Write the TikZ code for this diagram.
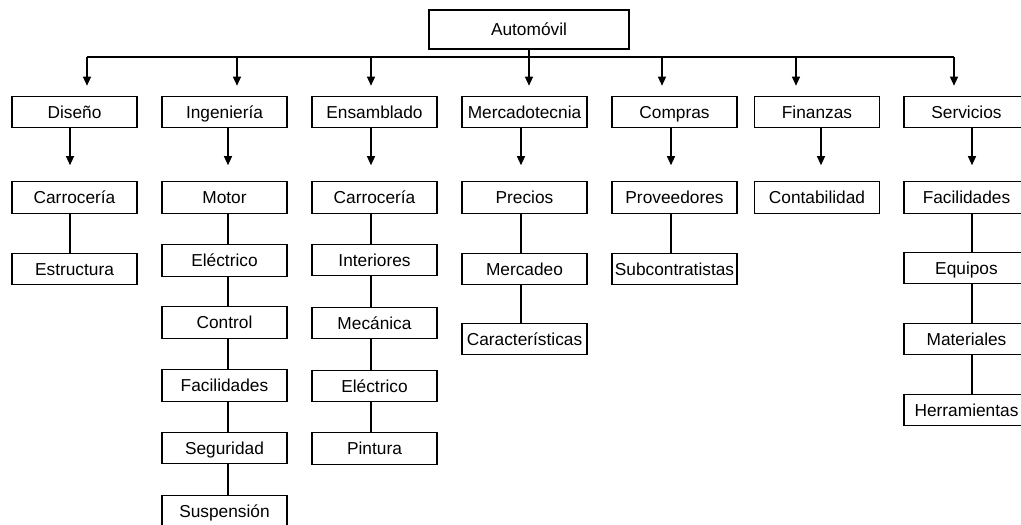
\documentclass[tikz,border=0pt]{standalone}
\usepackage{fontspec}
\setmainfont{Liberation Sans}
\usetikzlibrary{arrows.meta}
\begin{document}
\begin{tikzpicture}[x=1pt,y=-1pt,
  bx/.style={draw=black,line width=1.1pt,minimum width=125pt,minimum height=31.5pt,inner sep=0pt,text height=12.4pt,text depth=0pt,font=\fontsize{17.3}{20}\selectfont},
  ln/.style={line width=1.1pt},
  arr/.style={line width=1.1pt,-{Triangle[width=8pt,length=9pt]}}]
\useasboundingbox (0,0) rectangle (1021,525);
\clip (0,0) rectangle (1021,525);
% top
\node[bx,minimum width=200pt,minimum height=39pt] (auto) at (529,29.5) {Automóvil};
% level 1
\node[bx] (dis) at (74.5,112) {Diseño};
\node[bx] (ing) at (224.5,112) {Ingeniería};
\node[bx] (ens) at (374.5,112) {Ensamblado};
\node[bx] (mer) at (524.5,112) {Mercadotecnia};
\node[bx] (com) at (674.5,112) {Compras};
\node[bx] (fin) at (817,112) {Finanzas};
\node[bx] (ser) at (966.5,112) {Servicios};
% level 2
\node[bx] (d1) at (74.5,197.5) {Carrocería};
\node[bx] (d2) at (74.5,269) {Estructura};
\node[bx] (i1) at (224.5,197.5) {Motor};
\node[bx] (i2) at (224.5,260.5) {Eléctrico};
\node[bx] (i3) at (224.5,322.5) {Control};
\node[bx] (i4) at (224.5,385.5) {Facilidades};
\node[bx] (i5) at (224.5,448) {Seguridad};
\node[bx] (i6) at (224.5,511) {Suspensión};
\node[bx] (e1) at (374.5,197.5) {Carrocería};
\node[bx] (e2) at (374.5,260) {Interiores};
\node[bx] (e3) at (374.5,323) {Mecánica};
\node[bx] (e4) at (374.5,386) {Eléctrico};
\node[bx] (e5) at (374.5,448.5) {Pintura};
\node[bx] (m1) at (524.5,197.5) {Precios};
\node[bx] (m2) at (524.5,269) {Mercadeo};
\node[bx] (m3) at (524.5,339) {Características};
\node[bx] (c1) at (674.5,197.5) {Proveedores};
\node[bx] (c2) at (674.5,269) {Subcontratistas};
\node[bx] (f1) at (817,197.5) {Contabilidad};
\node[bx] (s1) at (966.5,197.5) {Facilidades};
\node[bx] (s2) at (966.5,268) {Equipos};
\node[bx] (s3) at (966.5,339) {Materiales};
\node[bx] (s4) at (966.5,410) {Herramientas};
% bus
\coordinate (b1) at (87,57);
\coordinate (b2) at (237,57);
\coordinate (b3) at (371,57);
\coordinate (b4) at (529,57);
\coordinate (b5) at (662,57);
\coordinate (b6) at (796,57);
\coordinate (b7) at (954,57);
\draw[ln] (b1) -- (b7);
\draw[ln] (auto.south) -- (auto.south |- b4);
\foreach \b/\n in {b1/dis,b2/ing,b3/ens,b4/mer,b5/com,b6/fin,b7/ser}
  \draw[arr,shorten >=10pt] (\b) -- (\b |- \n.north);
% column connectors
\coordinate (x1) at (70,0);
\coordinate (x2) at (228,0);
\coordinate (x3) at (371,0);
\coordinate (x4) at (521,0);
\coordinate (x5) at (671,0);
\coordinate (x6) at (821,0);
\coordinate (x7) at (972,0);
\foreach \x/\a/\b in {x1/dis/d1,x2/ing/i1,x3/ens/e1,x4/mer/m1,x5/com/c1,x6/fin/f1,x7/ser/s1}
  \draw[arr,shorten >=16pt] (\x |- \a.south) -- (\x |- \b.north);
\foreach \x/\a/\b in {x1/d1/d2,
  x2/i1/i2,x2/i2/i3,x2/i3/i4,x2/i4/i5,x2/i5/i6,
  x3/e1/e2,x3/e2/e3,x3/e3/e4,x3/e4/e5,
  x4/m1/m2,x4/m2/m3,
  x5/c1/c2,
  x7/s1/s2,x7/s2/s3,x7/s3/s4}
  \draw[ln] (\x |- \a.south) -- (\x |- \b.north);
\end{tikzpicture}
\end{document}
